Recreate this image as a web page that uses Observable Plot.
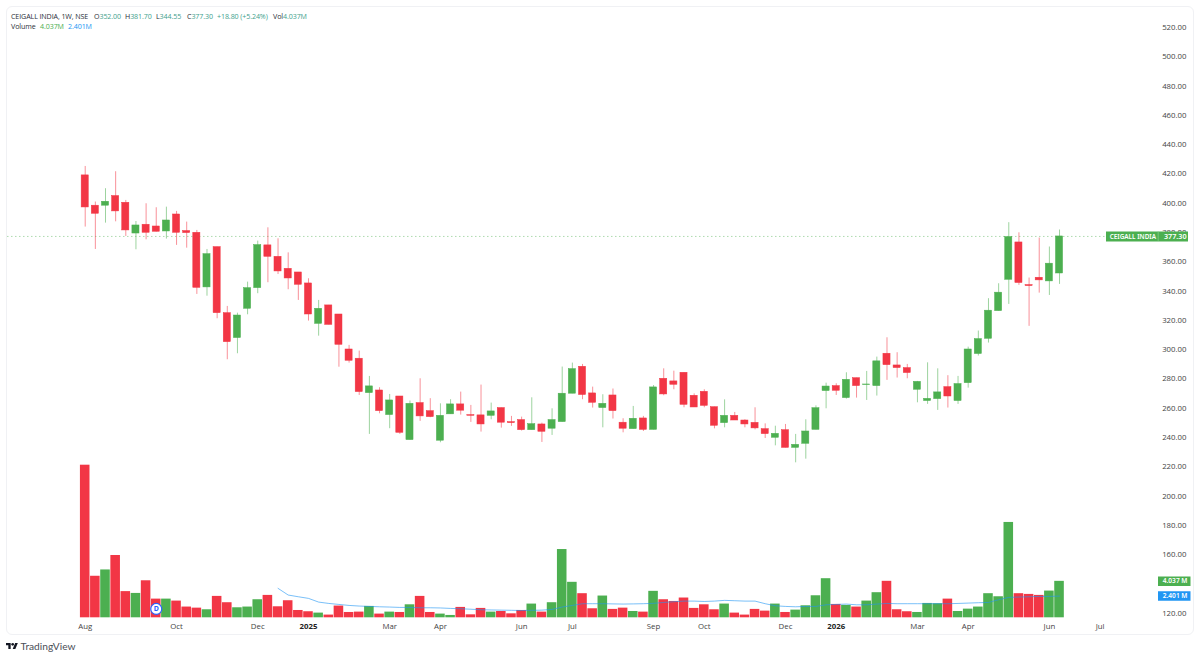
<!DOCTYPE html>
<html>
<head>
<meta charset="utf-8">
<script src="https://cdn.jsdelivr.net/npm/d3@7"></script>
<script src="https://cdn.jsdelivr.net/npm/@observablehq/plot@0.6"></script>
<style>
  html,body{margin:0;padding:0;background:#fff;}
  #stage{position:relative;width:1200px;height:656px;overflow:hidden;font-family:"Open Sans",Roboto,sans-serif;}
  #panel{position:absolute;left:6px;top:6px;width:1186px;height:627px;border:1px solid #f0f1f4;border-radius:6px;box-sizing:content-box;}
  #stage svg.plot-layer{position:absolute;left:0;top:0;}
  .h{position:absolute;font-size:7.1px;letter-spacing:-0.1px;line-height:10px;white-space:nowrap;color:#2a2e39;}
  .t{color:#3f9f8e;}
  #brand{position:absolute;left:20.5px;top:640px;font-family:Lato,"Open Sans",sans-serif;font-size:10.2px;line-height:12px;color:#4a4e57;}
  #logo{position:absolute;left:6px;top:642px;}
</style>
</head>
<body>
<div id="stage">
  <div id="panel"></div>
  <div id="charts"></div>
  <div class="h" style="left:11px;top:11px">CEIGALL INDIA, 1W, NSE</div>
  <div class="h" style="left:94px;top:11px">O<span class="t">352.00</span></div>
  <div class="h" style="left:125px;top:11px">H<span class="t">381.70</span></div>
  <div class="h" style="left:156px;top:11px">L<span class="t">344.55</span></div>
  <div class="h" style="left:187px;top:11px">C<span class="t">377.30</span></div>
  <div class="h t" style="left:217px;top:11px">+18.80 (+5.24%)</div>
  <div class="h" style="left:273px;top:11px">Vol<span class="t">4.037M</span></div>
  <div class="h" style="left:11px;top:21px">Volume</div>
  <div class="h" style="left:40px;top:21px;color:#4caf50">4.037M</div>
  <div class="h" style="left:68px;top:21px;color:#2196f3">2.401M</div>
  <svg id="logo" width="12" height="8" viewBox="0 3 36 20"><path fill="#131722" d="M14 22H7V11H0V4h14v18zM28 22h-8l7.5-18h8L28 22z"/><circle fill="#131722" cx="20" cy="8" r="4"/></svg>
  <div id="brand">TradingView</div>
</div>
<script>
const firstWeek = "2024-08-05";
const opens  = [419.0,398.3,398.3,404.9,400.3,379.3,385.3,384.1,380.7,392.3,381.0,379.8,342.5,370.0,324.9,307.9,327.9,342.0,371.2,363.4,355.2,352.7,345.2,317.6,330.2,324.0,300.1,293.8,270.3,272.1,255.3,268.0,238.2,263.5,258.0,237.8,255.8,262.6,255.3,255.1,254.8,260.1,250.5,251.9,245.0,248.9,246.0,250.5,269.9,288.3,270.1,260.1,268.7,250.1,245.7,253.0,245.2,280.1,278.3,284.2,268.5,271.2,260.7,249.8,254.8,251.6,250.0,245.7,239.8,245.0,232.9,235.7,245.2,271.7,275.1,266.9,280.5,275.8,275.1,297.2,289.2,287.4,272.6,264.9,266.2,274.4,264.9,277.1,297.0,307.4,326.3,347.7,373.2,344.1,349.1,346.6,352.0];
const highs  = [425.1,400.8,409.9,421.5,401.9,387.5,399.6,396.9,397.3,394.4,387.1,381.4,368.4,370.0,329.5,324.9,346.1,374.1,383.2,375.7,366.1,352.7,348.4,333.6,330.2,324.0,302.9,299.0,281.7,274.0,269.4,268.0,264.9,280.1,266.5,263.0,265.8,271.0,261.9,275.8,263.5,260.1,254.4,253.9,267.1,249.8,259.6,288.1,290.8,289.9,274.4,269.2,273.1,252.8,261.2,254.4,275.5,286.9,285.3,284.2,269.8,272.6,260.7,265.7,257.1,252.1,260.3,249.3,247.7,248.9,242.1,252.1,261.6,277.1,276.7,284.2,280.5,285.1,294.9,308.1,297.9,289.9,278.3,291.0,286.9,282.2,281.7,301.7,312.7,334.8,345.0,386.7,379.8,348.9,376.2,370.1,381.7];
const lows   = [383.7,368.4,386.4,387.3,377.3,368.2,375.0,380.3,375.5,371.2,369.3,337.7,336.5,321.1,293.1,297.2,323.8,338.2,345.7,351.3,340.9,333.6,319.5,309.2,316.9,288.0,290.8,268.7,242.1,256.2,246.0,242.1,238.2,251.0,253.5,236.4,255.8,255.3,250.3,243.7,252.1,246.4,247.6,244.4,245.0,236.6,241.4,250.5,269.9,265.8,260.1,246.6,252.6,243.2,245.7,244.1,245.2,268.5,272.6,260.3,260.5,260.3,245.9,246.6,251.6,246.6,245.2,239.3,234.3,232.9,222.7,225.2,245.2,259.6,268.7,266.2,266.9,265.3,268.3,279.0,280.6,280.1,263.7,262.6,258.5,260.1,262.6,273.7,295.6,304.5,326.3,330.9,343.9,315.9,338.6,337.0,344.55];
const closes = [397.1,392.8,401.0,394.4,381.4,384.8,379.8,380.5,388.2,379.8,379.6,342.2,365.2,324.9,305.1,323.3,342.0,371.4,363.4,353.4,348.6,344.3,324.0,327.9,316.9,303.3,292.4,271.0,274.9,258.0,265.3,243.2,263.0,254.4,253.9,254.8,262.6,258.3,254.8,248.9,257.8,250.1,249.8,245.0,249.1,243.9,251.9,269.9,286.7,269.0,263.7,263.0,258.0,246.0,252.8,245.2,274.2,269.4,276.0,262.3,260.5,261.6,248.0,254.8,251.6,248.9,246.2,242.3,242.5,232.9,235.0,244.1,260.0,274.8,271.9,279.4,275.1,276.2,292.0,289.4,287.4,284.0,278.0,266.4,270.8,268.0,276.5,300.1,307.2,326.6,338.9,376.9,345.5,343.4,347.3,358.7,377.3];
const volumes = [16.9,4.6,5.3,6.9,2.9,2.7,4.1,2.07,2.07,1.85,1.19,1.07,0.89,2.37,1.67,1.11,1.19,2.0,2.48,1.22,1.89,0.81,0.67,0.52,0.3,1.3,0.59,0.63,1.26,0.41,0.63,0.59,1.44,2.37,0.59,0.41,0.26,1.15,0.33,1.04,0.63,0.7,0.44,0.81,1.52,0.63,1.67,7.56,3.93,2.67,1.0,2.41,0.93,1.07,0.7,0.63,2.93,2.0,1.81,2.19,1.04,1.44,0.89,1.52,0.52,0.3,0.93,0.74,1.52,0.59,0.85,1.33,2.44,4.33,1.48,1.37,1.19,1.85,2.78,4.04,0.89,0.67,0.59,1.59,1.56,2.07,0.7,0.96,1.19,2.67,2.33,10.56,2.67,2.59,2.48,2.96,4.037];
const volumeMA = [null,null,null,null,null,null,null,null,null,null,null,null,null,null,null,null,null,null,null,3.26,2.52,2.33,2.15,1.74,1.59,1.48,1.37,1.3,1.26,1.22,1.19,1.15,1.15,1.11,1.11,1.09,1.04,1.0,0.95,0.89,0.87,0.85,0.83,0.81,0.83,0.85,0.93,1.19,1.37,1.56,1.56,1.56,1.54,1.52,1.54,1.56,1.6,1.7,1.78,1.85,1.85,1.81,1.85,1.93,1.89,1.85,1.85,1.56,1.33,1.26,1.22,1.26,1.26,1.44,1.48,1.52,1.44,1.44,1.52,1.59,1.56,1.56,1.56,1.56,1.56,1.56,1.59,1.63,1.67,1.7,2.0,2.26,2.3,2.33,2.37,2.37,2.401];
const priceTicks = [120,160,180,200,220,240,260,280,300,320,340,360,380,400,420,440,460,480,500,520];
const monthTicks = ["2024-08-05","2024-10-07","2024-12-02","2025-03-03","2025-04-07","2025-06-02","2025-07-07","2025-09-01","2025-10-06","2025-12-01","2026-03-02","2026-04-06","2026-06-01","2026-07-06"];
const yearTicks  = ["2025-01-06","2026-01-05"];
const dividendWeek = "2024-09-23";
const lastPrice = 377.30, lastVolume = 4.037, lastMA = 2.401;

const UP = "#4caf50", DOWN = "#f23645", BLUE = "#2196f3";
const D = s => new Date(s + "T00:00:00Z");
const weekAt = i => new Date(+D(firstWeek) + i * 7 * 864e5);
const days = (d, n) => new Date(+d + n * 864e5);
const candles = opens.map((o, i) => ({
  week: weekAt(i), o, h: highs[i], l: lows[i], c: closes[i], v: volumes[i], ma: volumeMA[i],
  col: closes[i] >= o ? UP : DOWN
}));

const xScale = {type: "utc", axis: null, domain: [weekAt(-8.346), weekAt(109.89)], range: [0, 1200]};
const axisFont = {fontSize: 7.8, fontFamily: '"Open Sans",Roboto,sans-serif', fill: "#444"};
const layout = {width: 1200, height: 656, margin: 0, marginBottom: 35, style: {background: "transparent", overflow: "visible"}, x: xScale};

const volumePlot = Plot.plot({
  ...layout,
  y: {axis: null, domain: [0, 16.9], range: [617.3, 464.7]},
  marks: [
    Plot.rectY(candles, {x1: d => days(d.week, -3.3), x2: d => days(d.week, 3.3), y1: 0, y2: "v", fill: "col"}),
    Plot.line(candles.filter(d => d.ma != null), {x: "week", y: "ma", stroke: BLUE, strokeWidth: 1, strokeOpacity: 0.6}),
    Plot.axisX(monthTicks.map(D), {label: null, tickSize: 0, tickPadding: 0, lineAnchor: "middle", dy: 5, tickFormat: d3.utcFormat("%b"), ...axisFont}),
    Plot.axisX(yearTicks.map(D), {label: null, tickSize: 0, tickPadding: 0, lineAnchor: "middle", dy: 5, tickFormat: d3.utcFormat("%Y"), ...axisFont, fontWeight: "bold", fill: "#222"}),
    Plot.dot([D(dividendWeek)], {x: d => d, y: [0.98], r: 5.5, fill: "#fff", stroke: "#2962ff", strokeWidth: 1.2}),
    Plot.text([D(dividendWeek)], {x: d => d, y: [0.98], text: ["D"], fontSize: 7, fontWeight: "bold", fill: "#2962ff"}),
    Plot.ruleY([lastVolume], {insetLeft: 1158, insetRight: 9.5, stroke: UP, strokeWidth: 9.5}),
    Plot.ruleY([lastMA], {insetLeft: 1158, insetRight: 9.5, stroke: BLUE, strokeWidth: 9.5}),
    Plot.text([lastVolume], {y: d => d, frameAnchor: "right", dx: -13, text: ["4.037 M"], fill: "#fff", fontSize: 6.6, fontWeight: 600}),
    Plot.text([lastMA], {y: d => d, frameAnchor: "right", dx: -13, text: ["2.401 M"], fill: "#fff", fontSize: 6.6, fontWeight: 600})
  ]
});

const pricePlot = Plot.plot({
  ...layout,
  y: {axis: null, domain: [120, 520], range: [612.7, 27]},
  marks: [
    Plot.ruleY([lastPrice], {insetLeft: 7, insetRight: 95, stroke: UP, strokeOpacity: 0.45, strokeDasharray: "1.5,2.5"}),
    Plot.ruleX(candles, {x: "week", y1: "l", y2: "h", stroke: "col", strokeWidth: 1, strokeOpacity: 0.55}),
    Plot.rect(candles, {x1: d => days(d.week, -2.45), x2: d => days(d.week, 2.45), y1: "o", y2: "c", fill: "col", stroke: "col", strokeWidth: 0.5}),
    Plot.axisY(priceTicks, {anchor: "right", label: null, tickSize: 0, tickPadding: 0, textAnchor: "end", dx: -14, tickFormat: d3.format(".2f"), ...axisFont}),
    Plot.ruleY([lastPrice], {insetLeft: 1106, insetRight: 12, stroke: UP, strokeWidth: 10}),
    Plot.ruleX([0], {x: () => weekAt(105.72), y1: 374, y2: 380.6, stroke: "#8fd092", strokeWidth: 0.7}),
    Plot.text([lastPrice], {y: d => d, frameAnchor: "right", dx: -14, text: ["377.30"], fill: "#fff", fontSize: 7.2, fontWeight: 600}),
    Plot.text([lastPrice], {y: d => d, frameAnchor: "right", dx: -44.5, text: ["CEIGALL INDIA"], fill: "#fff", fontSize: 6.4, fontWeight: 600})
  ]
});

const host = document.getElementById("charts");
[volumePlot, pricePlot].forEach(svg => { svg.classList.add("plot-layer"); host.appendChild(svg); });
</script>
</body>
</html>
